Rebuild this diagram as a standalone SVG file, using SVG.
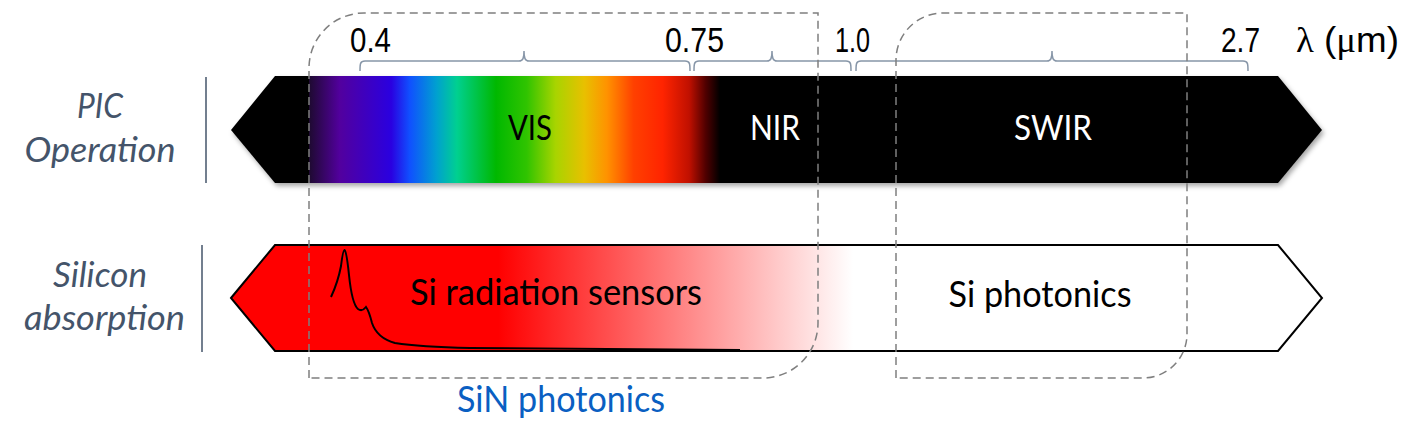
<svg xmlns="http://www.w3.org/2000/svg" width="1426" height="446" viewBox="0 0 1426 446">
<style>
.cal{font-family:Lato,"Open Sans","DejaVu Sans",sans-serif;}
.num{font-family:"Liberation Sans",Arial,sans-serif;font-size:35px;fill:#000;}
.side{font-family:Lato,"Open Sans","DejaVu Sans",sans-serif;font-style:italic;font-size:35px;fill:#44546a;text-anchor:middle;}
.brace{fill:none;stroke:#8796a8;stroke-width:1.5;}
.dash{fill:none;stroke:#7f7f7f;stroke-width:1.5;stroke-dasharray:8 5;}
.sep{stroke:#44546a;stroke-width:1.5;}
</style>
<defs>
<linearGradient id="spec" x1="309" y1="0" x2="720" y2="0" gradientUnits="userSpaceOnUse">
<stop offset="0" stop-color="#1e0a30"/>
<stop offset="0.075" stop-color="#52009e"/>
<stop offset="0.2" stop-color="#2a00e0"/>
<stop offset="0.245" stop-color="#1050ff"/>
<stop offset="0.31" stop-color="#00a0d0"/>
<stop offset="0.36" stop-color="#00d090"/>
<stop offset="0.455" stop-color="#00b800"/>
<stop offset="0.53" stop-color="#30c400"/>
<stop offset="0.6" stop-color="#a8d400"/>
<stop offset="0.67" stop-color="#e8c000"/>
<stop offset="0.725" stop-color="#ff9200"/>
<stop offset="0.79" stop-color="#ff4000"/>
<stop offset="0.86" stop-color="#ff2400"/>
<stop offset="0.925" stop-color="#c01000"/>
<stop offset="0.965" stop-color="#500000"/>
<stop offset="1" stop-color="#000000"/>
</linearGradient>
<linearGradient id="redfade" x1="231" y1="0" x2="1322" y2="0" gradientUnits="userSpaceOnUse">
<stop offset="0" stop-color="#ff0000"/>
<stop offset="0.245" stop-color="#ff0000"/>
<stop offset="0.57" stop-color="#ffffff"/>
<stop offset="1" stop-color="#ffffff"/>
</linearGradient>
<filter id="shadow" x="-5%" y="-20%" width="110%" height="150%">
<feDropShadow dx="2" dy="3" stdDeviation="2.5" flood-color="#000" flood-opacity="0.35"/>
</filter>
</defs>

<g id="row-labels">
<g id="label-pic">
<text class="side" x="100" y="118" textLength="46" lengthAdjust="spacingAndGlyphs">PIC</text>
<text class="side" x="100" y="162" textLength="151" lengthAdjust="spacingAndGlyphs">Operation</text>
<line class="sep" x1="206" y1="77" x2="206" y2="183"/>
</g>
<g id="label-silicon">
<text class="side" x="100" y="287" textLength="94" lengthAdjust="spacingAndGlyphs">Silicon</text>
<text class="side" x="104.5" y="330" textLength="161" lengthAdjust="spacingAndGlyphs">absorption</text>
<line class="sep" x1="202" y1="245" x2="202" y2="352"/>
</g>
</g>

<g id="pic-operation-bar">
<polygon points="231,130 275,76 1278,76 1322,130 1278,183 275,183" fill="#000" filter="url(#shadow)"/>
<rect x="309" y="76" width="411" height="107" fill="url(#spec)"/>
<text class="cal" x="530" y="140" font-size="34" text-anchor="middle" fill="#000" textLength="44" lengthAdjust="spacingAndGlyphs">VIS</text>
<text class="cal" x="775" y="140" font-size="34" text-anchor="middle" fill="#fff" textLength="50" lengthAdjust="spacingAndGlyphs">NIR</text>
<text class="cal" x="1053" y="140" font-size="34" text-anchor="middle" fill="#fff" textLength="78" lengthAdjust="spacingAndGlyphs">SWIR</text>
</g>

<g id="silicon-absorption-bar">
<polygon points="231,298 275,245 1278,245 1322,298 1278,351 275,351" fill="url(#redfade)" stroke="#000" stroke-width="2"/>
<path d="M331,297 Q338,282 341,266 Q343,250 344.5,250 Q346.5,251 349,275 Q352,304 358,309 Q362,312 366,307 Q369,311 372,323 Q377,338 395,343 Q420,347 470,348 L740,350" fill="none" stroke="#000" stroke-width="2"/>
<text class="cal" x="556" y="305" font-size="36" text-anchor="middle" fill="#000" textLength="292" lengthAdjust="spacingAndGlyphs">Si radiation sensors</text>
<text class="cal" x="1040" y="307" font-size="36" text-anchor="middle" fill="#000" textLength="183" lengthAdjust="spacingAndGlyphs">Si photonics</text>
</g>

<g id="wavelength-axis">
<text class="num" x="370.5" y="52" text-anchor="middle" textLength="41" lengthAdjust="spacingAndGlyphs">0.4</text>
<text class="num" x="694.5" y="52" text-anchor="middle" textLength="59" lengthAdjust="spacingAndGlyphs">0.75</text>
<text class="num" x="852.5" y="52" text-anchor="middle" textLength="35" lengthAdjust="spacingAndGlyphs">1.0</text>
<text class="num" x="1240.5" y="52" text-anchor="middle" textLength="39" lengthAdjust="spacingAndGlyphs">2.7</text>
<text class="num" x="1296" y="52" textLength="103" lengthAdjust="spacingAndGlyphs"><tspan font-family="'Liberation Serif',serif">λ</tspan> (<tspan font-family="'Liberation Serif',serif">μ</tspan>m)</text>
</g>

<g id="connectors">
<path class="brace" d="M360,71 C360,64 360,61 365,61 L519,61 C523,61 524,58 524,51 C524,58 525,61 529,61 L685,61 C690,61 690,64 690,71"/>
<path class="brace" d="M694,71 C694,64 694,61 699,61 L767,61 C771,61 772,58 772,51 C772,58 773,61 777,61 L846,61 C851,61 851,64 851,71"/>
<path class="brace" d="M856,71 C856,64 856,61 861,61 L1047,61 C1051,61 1052,58 1052,51 C1052,58 1053,61 1057,61 L1243,61 C1248,61 1248,64 1248,71"/>
</g>

<g id="sin-photonics">
<path class="dash" d="M309,378 L309,68 A55,55 0 0 1 364,13 L818,13 L818,323 A55,55 0 0 1 763,378 Z"/>
<text class="cal" x="561" y="412" font-size="36" text-anchor="middle" fill="#0a5fc2" textLength="208" lengthAdjust="spacingAndGlyphs">SiN photonics</text>
</g>

<g id="si-photonics-window">
<path class="dash" d="M896,378 L896,60 A47,47 0 0 1 943,13 L1187,13 L1187,334 A44,44 0 0 1 1143,378 Z"/>
</g>
</svg>
